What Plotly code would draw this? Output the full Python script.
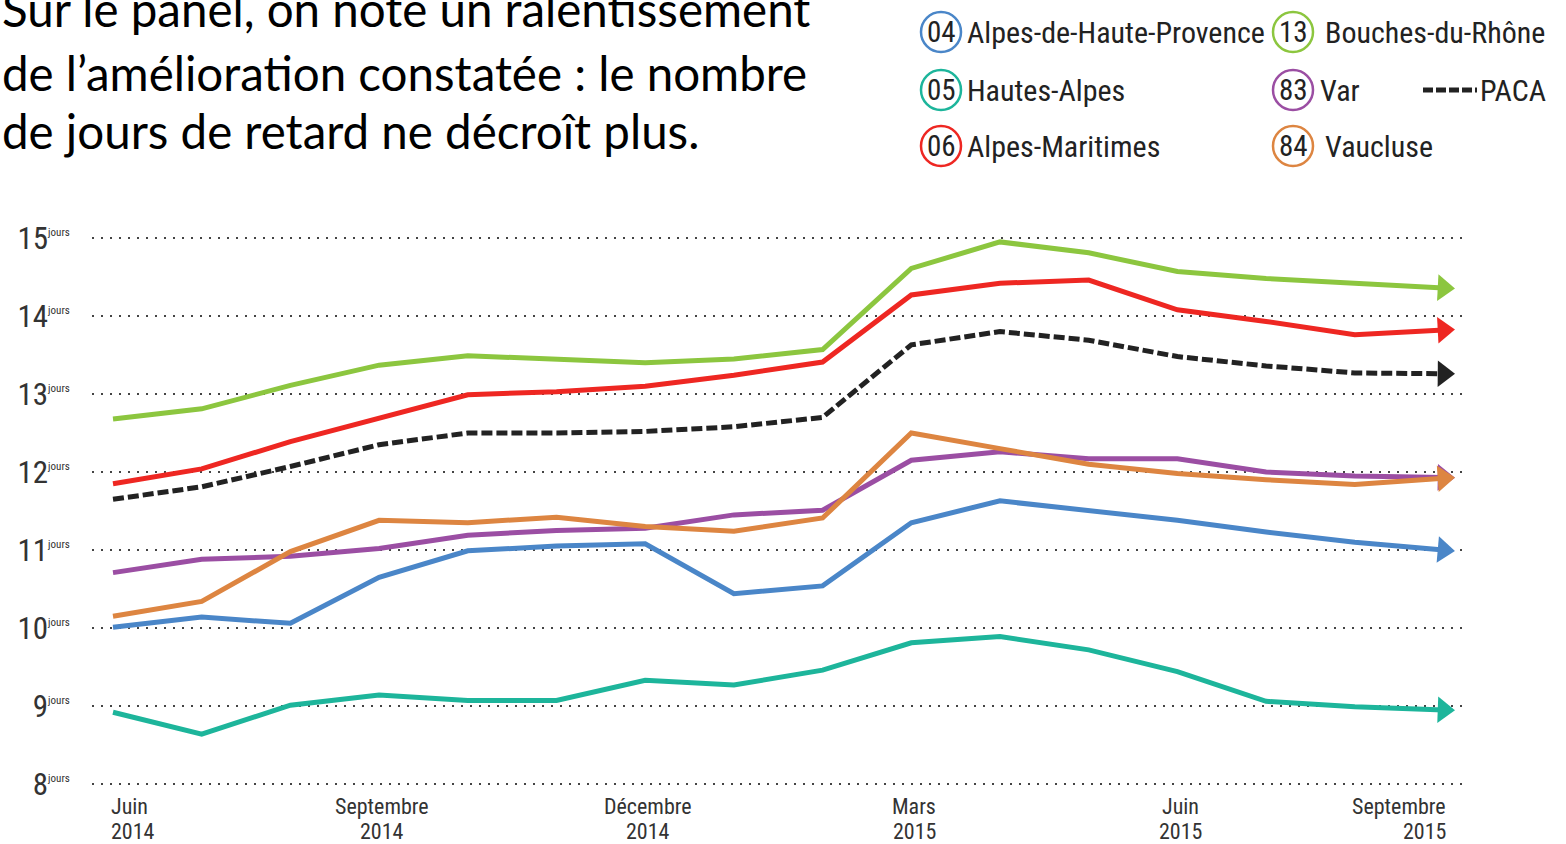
import plotly.graph_objects as go

# ---------------- data ----------------
months = ["Juin 2014", "Juil. 2014", "Août 2014", "Sept. 2014", "Oct. 2014", "Nov. 2014",
          "Déc. 2014", "Janv. 2015", "Févr. 2015", "Mars 2015", "Avr. 2015", "Mai 2015",
          "Juin 2015", "Juil. 2015", "Août 2015", "Sept. 2015"]
month_idx = list(range(len(months)))

dep04 = [10.01, 10.14, 10.06, 10.65, 10.99, 11.05, 11.08, 10.44, 10.54, 11.35, 11.63, 11.50, 11.38, 11.23, 11.10, 11.00]
dep05 = [8.92, 8.64, 9.01, 9.14, 9.07, 9.07, 9.33, 9.27, 9.46, 9.81, 9.89, 9.72, 9.44, 9.06, 8.99, 8.95]
dep06 = [11.85, 12.04, 12.39, 12.69, 12.99, 13.03, 13.10, 13.24, 13.41, 14.27, 14.42, 14.46, 14.08, 13.93, 13.76, 13.82]
dep13 = [12.68, 12.81, 13.11, 13.37, 13.49, 13.44, 13.40, 13.45, 13.57, 14.61, 14.95, 14.81, 14.57, 14.48, 14.42, 14.36]
dep83 = [10.71, 10.88, 10.92, 11.02, 11.19, 11.25, 11.28, 11.45, 11.51, 12.15, 12.26, 12.17, 12.17, 12.00, 11.95, 11.93]
dep84 = [10.15, 10.34, 10.98, 11.38, 11.35, 11.42, 11.30, 11.24, 11.41, 12.50, 12.30, 12.10, 11.98, 11.90, 11.84, 11.92]
paca = [11.65, 11.81, 12.07, 12.35, 12.50, 12.50, 12.52, 12.58, 12.70, 13.63, 13.80, 13.69, 13.48, 13.36, 13.27, 13.26]

y_ticks = [8, 9, 10, 11, 12, 13, 14, 15]
x_tick_idx = [0, 3, 6, 9, 12, 15]
x_tick_month = ["Juin", "Septembre", "Décembre", "Mars", "Juin", "Septembre"]
x_tick_year = ["2014", "2014", "2014", "2015", "2015", "2015"]

legend_codes = ["04", "05", "06", "13", "83", "84"]
legend_names = ["Alpes-de-Haute-Provence", "Hautes-Alpes", "Alpes-Maritimes",
                "Bouches-du-Rhône", "Var", "Vaucluse"]

title_lines = ["Sur le panel, on note un ralentissement",
               "de l’amélioration constatée : le nombre",
               "de jours de retard ne décroît plus."]

# ---------------- style ----------------
C04, C05, C06 = "#4a86c8", "#1db59b", "#ee2722"
C13, C83, C84 = "#8cc63f", "#9b4ea3", "#dd8541"
CPACA = "#222222"
NARROW = "Liberation Sans Narrow, Roboto Condensed, DejaVu Sans Condensed, Arial Narrow, sans-serif"
W, H = 1566, 844
ML, MR, MT, MB = 92, 104, 222, 44
PW, PH = W - ML - MR, H - MT - MB
X0PX, DXPX = 113, 88.7   # pixel of first month, pixels per month

def px(x):
    return (x - ML) / PW

def py(y):
    return (H - MB - y) / PH

fig = go.Figure()

arrow_sizes = [0] * (len(months) - 1) + [23]

def add_series(values, color, name, dash="solid"):
    fig.add_trace(go.Scatter(
        x=month_idx, y=values, mode="lines+markers", name=name,
        line=dict(color=color, width=5, dash=dash, backoff=0),
        marker=dict(symbol="triangle-up", size=arrow_sizes, angleref="previous",
                    color=color, opacity=1, line=dict(width=0)),
        showlegend=False, hoverinfo="skip",
    ))

add_series(dep05, C05, "05")
add_series(dep04, C04, "04")
add_series(dep83, C83, "83")
add_series(dep84, C84, "84")
add_series(paca, CPACA, "PACA", dash="11px,4px")
add_series(dep06, C06, "06")
add_series(dep13, C13, "13")

annotations = []
shapes = []

# title text
title_y = [8, 72, 131]
for line, yy in zip(title_lines, title_y):
    annotations.append(dict(text=line, xref="paper", yref="paper", x=px(0), y=py(yy),
                            xanchor="left", yanchor="middle", showarrow=False,
                            font=dict(family="Lato, Open Sans, sans-serif", size=47.5, color="#000")))

# x tick labels (two separate lines)
for i, (idx, mo, yr) in enumerate(zip(x_tick_idx, x_tick_month, x_tick_year)):
    if i == 0:
        xa, xs = "left", -4
    elif i == len(x_tick_idx) - 1:
        xa, xs = "right", 4
    else:
        xa, xs = "center", 3
    for txt, yy in ((mo, 806), (yr, 831)):
        annotations.append(dict(text=txt, xref="x", yref="paper", x=idx, y=py(yy),
                                xanchor=xa, yanchor="middle", xshift=xs, showarrow=False,
                                font=dict(family=NARROW, size=22, color="#333")))

# custom legend
leg_colors = [C04, C05, C06, C13, C83, C84]
col_x = [941, 941, 941, 1293, 1293, 1293]
row_y = [32, 90, 146, 32, 90, 146]
text_x = [965, 965, 965, 1323, 1318, 1323]
for code, nm, c, cx, cy, tx in zip(legend_codes, legend_names, leg_colors, col_x, row_y, text_x):
    shapes.append(dict(type="circle", xref="paper", yref="paper", xsizemode="pixel", ysizemode="pixel",
                       xanchor=px(cx), yanchor=py(cy), x0=-20, x1=20, y0=-20, y1=20,
                       line=dict(color=c, width=2.5), layer="above"))
    annotations.append(dict(text=code, xref="paper", yref="paper", x=px(cx), y=py(cy),
                            xanchor="center", yanchor="middle", showarrow=False,
                            font=dict(family=NARROW, size=29, color="#222")))
    annotations.append(dict(text=nm, xref="paper", yref="paper", x=px(tx), y=py(cy),
                            xanchor="left", yanchor="middle", showarrow=False,
                            font=dict(family=NARROW, size=30, color="#222")))
shapes.append(dict(type="line", xref="paper", yref="paper", x0=px(1423), x1=px(1477),
                   y0=py(90), y1=py(90), line=dict(color=CPACA, width=5, dash="10px,3px")))
annotations.append(dict(text="PACA", xref="paper", yref="paper", x=px(1478), y=py(90),
                        xanchor="left", yanchor="middle", showarrow=False,
                        font=dict(family=NARROW, size=30, color="#222")))

fig.update_layout(
    width=W, height=H,
    margin=dict(l=ML, r=MR, t=MT, b=MB),
    paper_bgcolor="white", plot_bgcolor="white",
    showlegend=False,
    xaxis=dict(range=[-(X0PX - ML) / DXPX, (W - MR - X0PX) / DXPX], showgrid=False, zeroline=False,
               showticklabels=False, showline=False, fixedrange=True),
    yaxis=dict(range=[8 - 16 / 78, 15 + 16 / 78], tickvals=y_ticks,
               ticktext=[f"{v}<sup><span style='font-size:11px'>jours</span></sup>" for v in y_ticks],
               showgrid=True, gridcolor="#444", gridwidth=2, griddash="2px,7px",
               zeroline=False, showline=False, ticks="outside", ticklen=15,
               tickcolor="rgba(0,0,0,0)",
               tickfont=dict(family=NARROW, size=31, color="#333")),
    annotations=annotations,
    shapes=shapes,
)

fig.write_html("out.html", config={"displayModeBar": False},
               post_script="document.body.style.margin='0';document.body.style.overflow='hidden';")
